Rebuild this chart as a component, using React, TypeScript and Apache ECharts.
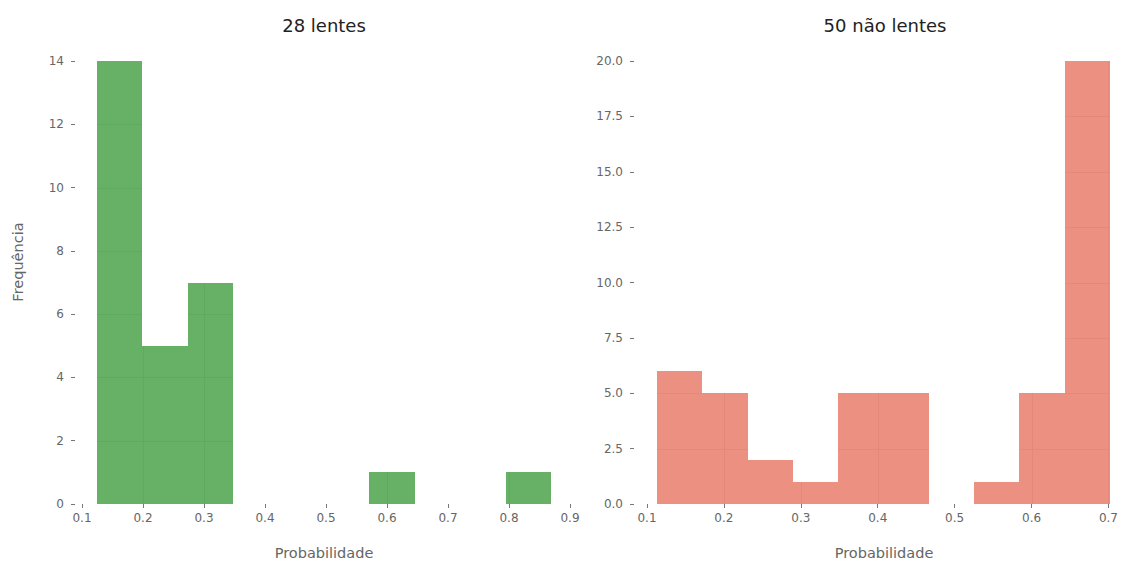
import React, { useEffect, useRef } from "react";
import * as echarts from "echarts";

const lentesEdges = [0.124, 0.1985, 0.273, 0.3475, 0.422, 0.4965, 0.571, 0.6455, 0.72, 0.7945, 0.869];
const lentesCounts = [14, 5, 7, 0, 0, 0, 1, 0, 0, 1];
const naoEdges = [0.113, 0.1719, 0.2308, 0.2897, 0.3486, 0.4075, 0.4664, 0.5253, 0.5842, 0.6431, 0.702];
const naoCounts = [6, 5, 2, 1, 5, 5, 0, 1, 5, 20];

const leftXTicks = [0.1, 0.2, 0.3, 0.4, 0.5, 0.6, 0.7, 0.8, 0.9];
const rightXTicks = [0.1, 0.2, 0.3, 0.4, 0.5, 0.6, 0.7];
const leftYTicks = [0, 2, 4, 6, 8, 10, 12, 14];
const rightYTicks = [0, 2.5, 5, 7.5, 10, 12.5, 15, 17.5, 20];

const titles = ["28 lentes", "50 não lentes"];
const xName = "Probabilidade";
const yName = "Frequência";

const FONT = "DejaVu Sans";

function binData(edges: number[], counts: number[]) {
  return counts.map((c, i) => [edges[i], edges[i + 1], c]);
}

function makeRender(xTicks: number[], yTicks: number[], fill: string, gridc: string) {
  return (params: any, api: any) => {
    const x0 = api.value(0);
    const x1 = api.value(1);
    const c = api.value(2);
    if (!c) return null;
    const p0 = api.coord([x0, 0]).map(Math.round);
    const p1 = api.coord([x1, c]).map(Math.round);
    const children: any[] = [
      {
        type: "rect",
        shape: { x: p0[0], y: p1[1], width: p1[0] - p0[0], height: p0[1] - p1[1] },
        style: { fill },
      },
    ];
    xTicks.forEach((t) => {
      if (t > x0 + 1e-6 && t < x1 - 1e-6) {
        const a = api.coord([t, 0]);
        const xx = Math.round(a[0]) + 0.5;
        children.push({
          type: "line",
          shape: { x1: xx, y1: p0[1], x2: xx, y2: p1[1] },
          style: { stroke: gridc, lineWidth: 1 },
        });
      }
    });
    yTicks.forEach((t) => {
      if (t > 0 && t < c) {
        const a = api.coord([x0, t]);
        const yy = Math.round(a[1]) + 0.5;
        children.push({
          type: "line",
          shape: { x1: p0[0], y1: yy, x2: p1[0], y2: yy },
          style: { stroke: gridc, lineWidth: 1 },
        });
      }
    });
    return { type: "group", children };
  };
}

export default function App() {
  const ref = useRef<HTMLDivElement>(null);
  useEffect(() => {
    document.body.style.margin = "0";
    const chart = echarts.init(ref.current!, null, { renderer: "svg" });
    const labelStyle = { color: "#666", fontFamily: FONT, fontSize: 12 };
    const tickStyle = { show: true, length: 4, lineStyle: { color: "#777", width: 1 } };
    const xAxisBase = (gridIndex: number, min: number, max: number) => ({
      type: "value",
      gridIndex,
      min,
      max,
      interval: 0.1,
      axisLine: { show: false },
      axisTick: { ...tickStyle, inside: false },
      axisLabel: { ...labelStyle, margin: 8, formatter: (v: number) => v.toFixed(1) },
      splitLine: { show: false },
    });
    chart.setOption({
      animation: false,
      backgroundColor: "#ffffff",
      grid: [
        { left: 82, right: 1121 - 570, top: 61, bottom: 60 },
        { left: 647, right: 10, top: 61, bottom: 60 },
      ],
      xAxis: [xAxisBase(0, 0.1, 0.9), xAxisBase(1, 0.1, 0.7)],
      yAxis: [
        {
          type: "value",
          gridIndex: 0,
          min: 0,
          max: 14,
          interval: 2,
          offset: 7,
          axisLine: { show: false },
          axisTick: tickStyle,
          axisLabel: { ...labelStyle, margin: 11 },
          splitLine: { show: false },
        },
        {
          type: "value",
          gridIndex: 1,
          min: 0,
          max: 20,
          interval: 2.5,
          offset: 13,
          axisLine: { show: false },
          axisTick: tickStyle,
          axisLabel: { ...labelStyle, margin: 11, formatter: (v: number) => v.toFixed(1) },
          splitLine: { show: false },
        },
      ],
      series: [
        {
          type: "custom",
          xAxisIndex: 0,
          yAxisIndex: 0,
          data: binData(lentesEdges, lentesCounts),
          encode: { x: [0, 1], y: 2 },
          renderItem: makeRender(leftXTicks, leftYTicks, "#66B166", "#5EAB5E"),
        },
        {
          type: "custom",
          xAxisIndex: 1,
          yAxisIndex: 1,
          data: binData(naoEdges, naoCounts),
          encode: { x: [0, 1], y: 2 },
          renderItem: makeRender(rightXTicks, rightYTicks, "#EC9082", "#E3887B"),
        },
      ],
      graphic: [
        {
          type: "text",
          x: 324,
          y: 25,
          style: { text: titles[0], font: `18px '${FONT}'`, fill: "#222", align: "center", verticalAlign: "middle" },
        },
        {
          type: "text",
          x: 885,
          y: 25,
          style: { text: titles[1], font: `18px '${FONT}'`, fill: "#222", align: "center", verticalAlign: "middle" },
        },
        {
          type: "text",
          x: 324,
          y: 553,
          style: { text: xName, font: `14.5px '${FONT}'`, fill: "#666", align: "center", verticalAlign: "middle" },
        },
        {
          type: "text",
          x: 884,
          y: 553,
          style: { text: xName, font: `14.5px '${FONT}'`, fill: "#666", align: "center", verticalAlign: "middle" },
        },
        {
          type: "text",
          x: 18,
          y: 262,
          rotation: Math.PI / 2,
          style: { text: yName, font: `14.5px '${FONT}'`, fill: "#666", align: "center", verticalAlign: "middle" },
        },
      ],
    });
    return () => chart.dispose();
  }, []);
  return <div ref={ref} style={{ width: 1121, height: 564 }} />;
}
